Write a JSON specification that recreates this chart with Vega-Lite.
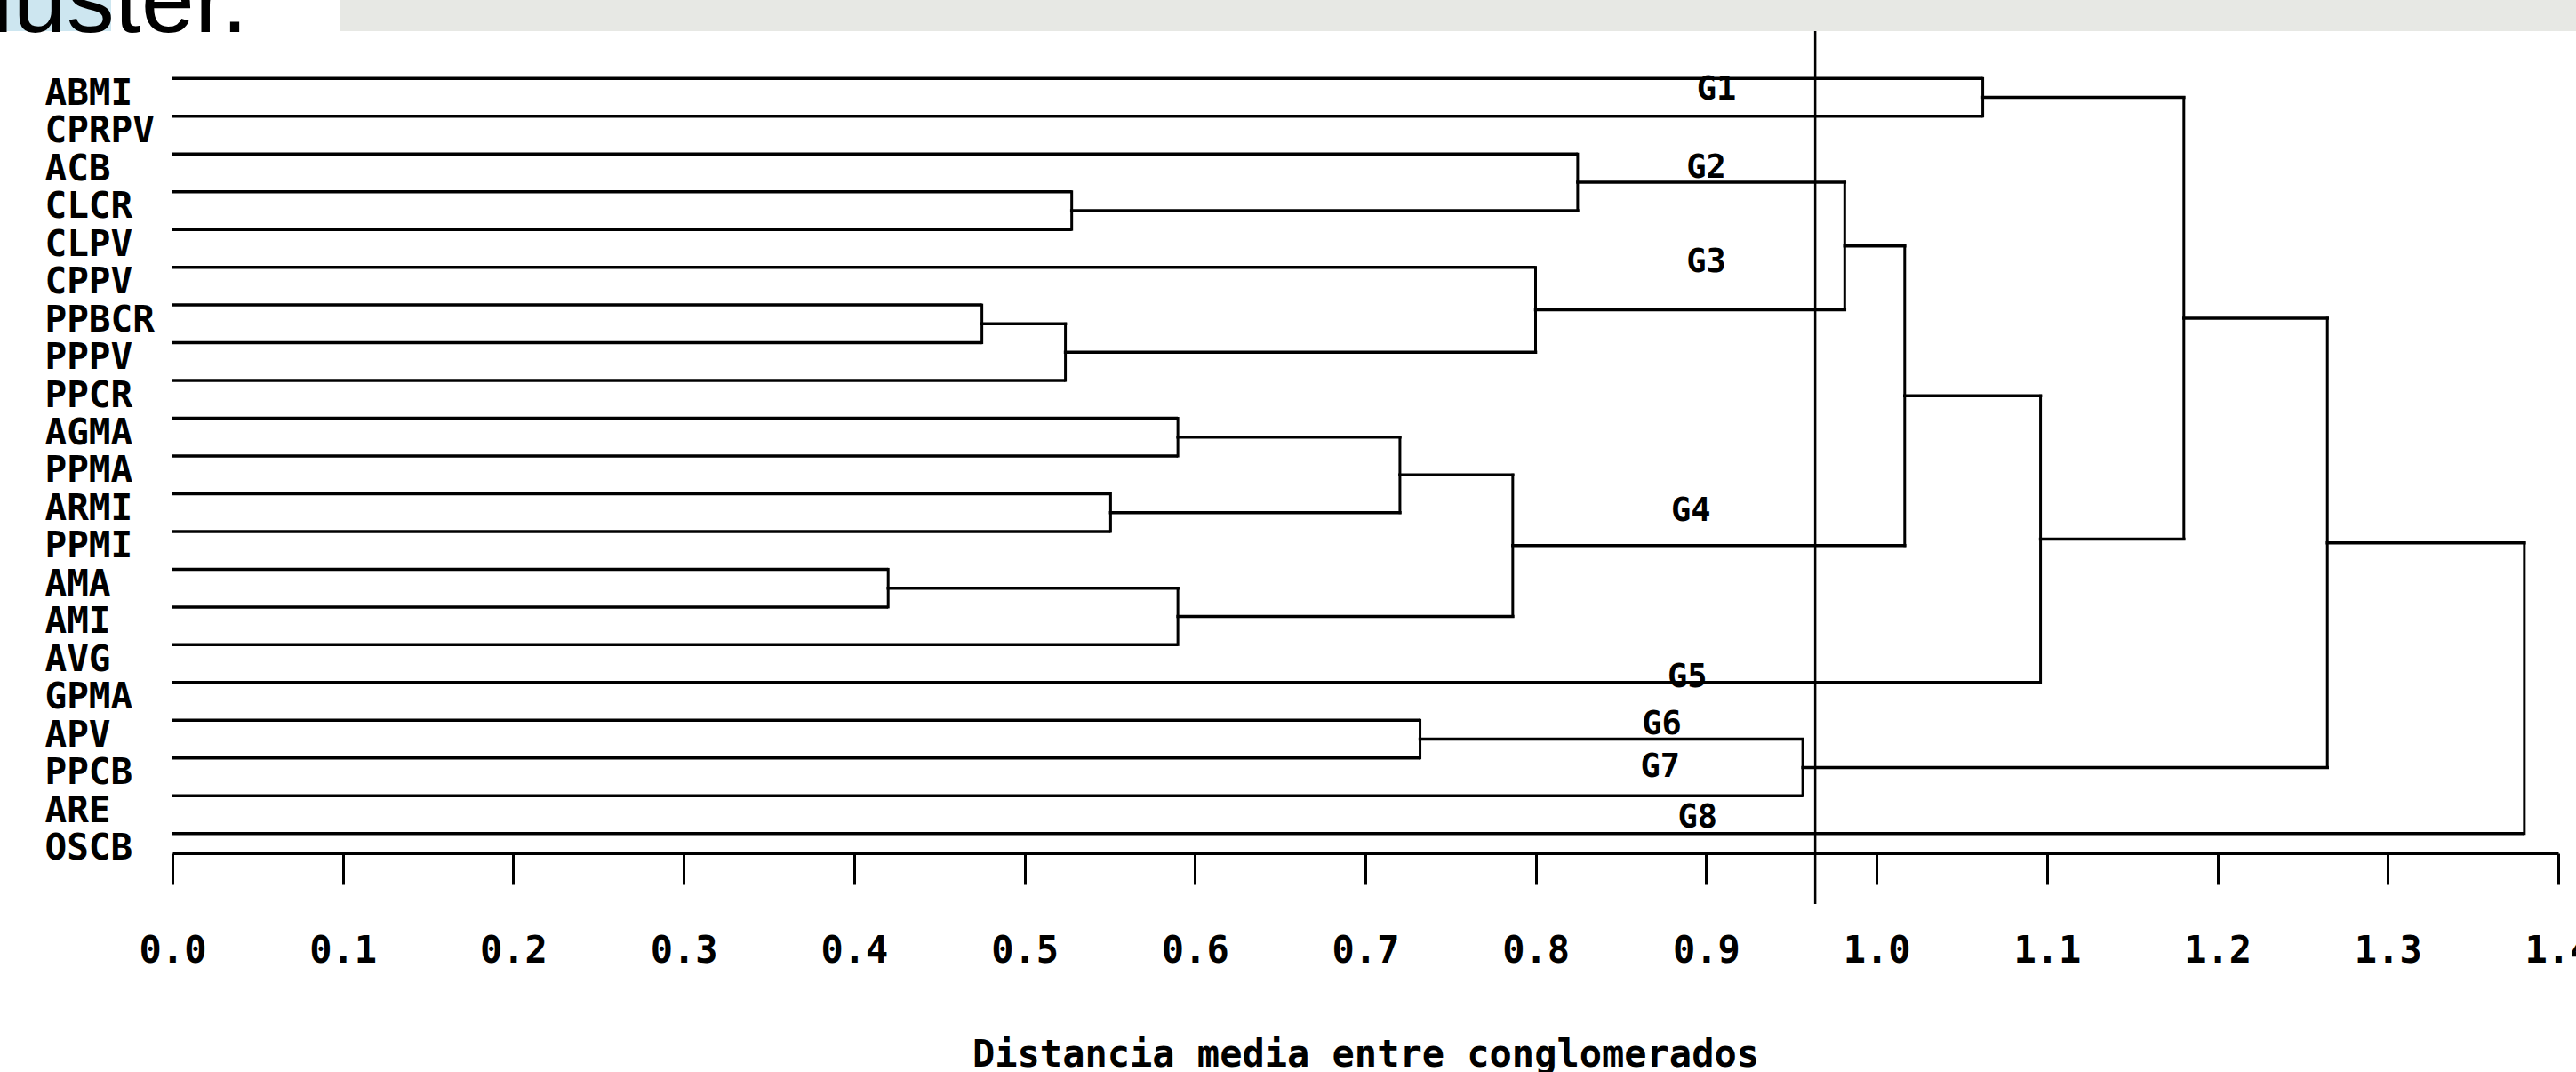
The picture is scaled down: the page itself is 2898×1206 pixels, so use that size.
{
  "$schema": "https://vega.github.io/schema/vega-lite/v6.json",
  "width": 2684,
  "height": 925,
  "autosize": {"type": "none"},
  "padding": {"left": 194, "top": 35, "right": 20, "bottom": 246},
  "background": "white",
  "config": {
    "view": {"stroke": null},
    "axisX": {"grid": false, "domainColor": "black", "domainWidth": 3, "tickColor": "black", "tickWidth": 3, "tickSize": 35, "labelFont": "DejaVu Sans Mono", "labelFontWeight": "bold", "labelFontSize": 42, "labelColor": "black", "labelPadding": 54, "labelFlush": false, "labelOverlap": false, "titleFont": "DejaVu Sans Mono", "titleFontWeight": "bold", "titleFontSize": 42, "titleColor": "black", "titlePadding": 76}
  },
  "datasets": {
    "leaves": [
      {"leaf": "ABMI", "join": 1.0623},
      {"leaf": "CPRPV", "join": 1.0623},
      {"leaf": "ACB", "join": 0.8246},
      {"leaf": "CLCR", "join": 0.5277},
      {"leaf": "CLPV", "join": 0.5277},
      {"leaf": "CPPV", "join": 0.7999},
      {"leaf": "PPBCR", "join": 0.475},
      {"leaf": "PPPV", "join": 0.475},
      {"leaf": "PPCR", "join": 0.524},
      {"leaf": "AGMA", "join": 0.59},
      {"leaf": "PPMA", "join": 0.59},
      {"leaf": "ARMI", "join": 0.5505},
      {"leaf": "PPMI", "join": 0.5505},
      {"leaf": "AMA", "join": 0.42},
      {"leaf": "AMI", "join": 0.42},
      {"leaf": "AVG", "join": 0.59},
      {"leaf": "GPMA", "join": 1.0962},
      {"leaf": "APV", "join": 0.7321},
      {"leaf": "PPCB", "join": 0.7321},
      {"leaf": "ARE", "join": 0.9567},
      {"leaf": "OSCB", "join": 1.3801}
    ],
    "nodes": [
      {"node": "A", "h": 1.0623, "y": 0.5, "ylo": 0, "yhi": 1, "parent_h": 1.1803},
      {"node": "B", "h": 0.5277, "y": 3.5, "ylo": 3, "yhi": 4, "parent_h": 0.8246},
      {"node": "C", "h": 0.8246, "y": 2.75, "ylo": 2, "yhi": 3.5, "parent_h": 0.9813},
      {"node": "D", "h": 0.475, "y": 6.5, "ylo": 6, "yhi": 7, "parent_h": 0.524},
      {"node": "E", "h": 0.524, "y": 7.25, "ylo": 6.5, "yhi": 8, "parent_h": 0.7999},
      {"node": "F", "h": 0.7999, "y": 6.125, "ylo": 5, "yhi": 7.25, "parent_h": 0.9813},
      {"node": "G", "h": 0.9813, "y": 4.4375, "ylo": 2.75, "yhi": 6.125, "parent_h": 1.0165},
      {"node": "H", "h": 0.59, "y": 9.5, "ylo": 9, "yhi": 10, "parent_h": 0.7203},
      {"node": "I", "h": 0.5505, "y": 11.5, "ylo": 11, "yhi": 12, "parent_h": 0.7203},
      {"node": "J", "h": 0.7203, "y": 10.5, "ylo": 9.5, "yhi": 11.5, "parent_h": 0.7865},
      {"node": "K", "h": 0.42, "y": 13.5, "ylo": 13, "yhi": 14, "parent_h": 0.59},
      {"node": "L", "h": 0.59, "y": 14.25, "ylo": 13.5, "yhi": 15, "parent_h": 0.7865},
      {"node": "M", "h": 0.7865, "y": 12.375, "ylo": 10.5, "yhi": 14.25, "parent_h": 1.0165},
      {"node": "N", "h": 1.0165, "y": 8.406, "ylo": 4.4375, "yhi": 12.375, "parent_h": 1.0962},
      {"node": "O", "h": 1.0962, "y": 12.203, "ylo": 8.406, "yhi": 16, "parent_h": 1.1803},
      {"node": "P", "h": 1.1803, "y": 6.352, "ylo": 0.5, "yhi": 12.203, "parent_h": 1.2645},
      {"node": "Q", "h": 0.7321, "y": 17.5, "ylo": 17, "yhi": 18, "parent_h": 0.9567},
      {"node": "R", "h": 0.9567, "y": 18.25, "ylo": 17.5, "yhi": 19, "parent_h": 1.2645},
      {"node": "S", "h": 1.2645, "y": 12.301, "ylo": 6.352, "yhi": 18.25, "parent_h": 1.3801},
      {"node": "T", "h": 1.3801, "y": 16.15, "ylo": 12.301, "yhi": 20, "parent_h": null}
    ],
    "groups": [
      {"label": "G1", "x": 0.906, "y": 0.309},
      {"label": "G2", "x": 0.9, "y": 2.38},
      {"label": "G3", "x": 0.9, "y": 4.876},
      {"label": "G4", "x": 0.891, "y": 11.47},
      {"label": "G5", "x": 0.889, "y": 15.87},
      {"label": "G6", "x": 0.874, "y": 17.12},
      {"label": "G7", "x": 0.873, "y": 18.25},
      {"label": "G8", "x": 0.895, "y": 19.59}
    ]
  },
  "layer": [
    {
      "data": {"values": [{}]},
      "mark": {"type": "rect", "color": "#e7e8e4"},
      "encoding": {
        "x": {"datum": 0.0986, "type": "quantitative", "scale": {"domain": [0, 1.4], "nice": false, "zero": false}, "axis": {"values": [0, 0.1, 0.2, 0.3, 0.4, 0.5, 0.6, 0.7, 0.8, 0.9, 1.0, 1.1, 1.2, 1.3, 1.4], "format": ".1f", "title": "Distancia media entre conglomerados"}},
        "x2": {"datum": 1.5},
        "y": {"datum": -2.079, "type": "quantitative", "scale": {"domain": [-1.255, 20.525], "reverse": true, "nice": false, "zero": false}, "axis": null},
        "y2": {"datum": -1.255}
      }
    },
    {
      "data": {"values": [{}]},
      "mark": {"type": "rect", "color": "#cde6f0"},
      "encoding": {
        "x": {"datum": -0.1013, "type": "quantitative", "scale": {"domain": [0, 1.4], "nice": false, "zero": false}, "axis": {"values": [0, 0.1, 0.2, 0.3, 0.4, 0.5, 0.6, 0.7, 0.8, 0.9, 1.0, 1.1, 1.2, 1.3, 1.4], "format": ".1f", "title": "Distancia media entre conglomerados"}},
        "x2": {"datum": -0.036},
        "y": {"datum": -2.079, "type": "quantitative", "scale": {"domain": [-1.255, 20.525], "reverse": true, "nice": false, "zero": false}, "axis": null},
        "y2": {"datum": -1.255}
      }
    },
    {
      "data": {"values": [{"t": "luster."}]},
      "mark": {"type": "text", "font": "Liberation Sans", "fontSize": 108, "color": "black", "align": "left", "baseline": "alphabetic"},
      "encoding": {
        "x": {"datum": -0.106, "type": "quantitative", "scale": {"domain": [0, 1.4], "nice": false, "zero": false}, "axis": {"values": [0, 0.1, 0.2, 0.3, 0.4, 0.5, 0.6, 0.7, 0.8, 0.9, 1.0, 1.1, 1.2, 1.3, 1.4], "format": ".1f", "title": "Distancia media entre conglomerados"}},
        "y": {"datum": -1.243, "type": "quantitative", "scale": {"domain": [-1.255, 20.525], "reverse": true, "nice": false, "zero": false}, "axis": null},
        "text": {"field": "t"}
      }
    },
    {
      "data": {"name": "leaves"},
      "mark": {"type": "bar", "color": "black", "size": 3.5},
      "encoding": {
        "y": {
          "field": "leaf", "type": "ordinal", "sort": null,
          "scale": {"type": "point", "padding": 0.89, "align": 0.705},
          "axis": {"orient": "left", "ticks": false, "domain": false, "grid": false, "title": null, "labelAlign": "left", "labelPadding": 144, "labelBaseline": "top", "labelOffset": -3, "labelOverlap": false, "labelFont": "DejaVu Sans Mono", "labelFontWeight": "bold", "labelFontSize": 41, "labelColor": "black"}
        },
        "x": {"field": "join", "type": "quantitative", "scale": {"domain": [0, 1.4], "nice": false, "zero": false}, "axis": {"values": [0, 0.1, 0.2, 0.3, 0.4, 0.5, 0.6, 0.7, 0.8, 0.9, 1.0, 1.1, 1.2, 1.3, 1.4], "format": ".1f", "title": "Distancia media entre conglomerados"}}
      }
    },
    {
      "data": {"name": "nodes"},
      "transform": [{"filter": "datum.parent_h != null"}],
      "mark": {"type": "rule", "color": "black", "strokeWidth": 3.5, "strokeCap": "square"},
      "encoding": {
        "x": {"field": "h", "type": "quantitative", "scale": {"domain": [0, 1.4], "nice": false, "zero": false}, "axis": {"values": [0, 0.1, 0.2, 0.3, 0.4, 0.5, 0.6, 0.7, 0.8, 0.9, 1.0, 1.1, 1.2, 1.3, 1.4], "format": ".1f", "title": "Distancia media entre conglomerados"}},
        "x2": {"field": "parent_h"},
        "y": {"field": "y", "type": "quantitative", "scale": {"domain": [-1.255, 20.525], "reverse": true, "nice": false, "zero": false}, "axis": null}
      }
    },
    {
      "data": {"name": "nodes"},
      "mark": {"type": "rule", "color": "black", "strokeWidth": 3, "strokeCap": "square"},
      "encoding": {
        "x": {"field": "h", "type": "quantitative", "scale": {"domain": [0, 1.4], "nice": false, "zero": false}, "axis": {"values": [0, 0.1, 0.2, 0.3, 0.4, 0.5, 0.6, 0.7, 0.8, 0.9, 1.0, 1.1, 1.2, 1.3, 1.4], "format": ".1f", "title": "Distancia media entre conglomerados"}},
        "y": {"field": "ylo", "type": "quantitative", "scale": {"domain": [-1.255, 20.525], "reverse": true, "nice": false, "zero": false}, "axis": null},
        "y2": {"field": "yhi"}
      }
    },
    {
      "data": {"values": [{}]},
      "mark": {"type": "rule", "color": "black", "strokeWidth": 2.5},
      "encoding": {
        "x": {"datum": 0.964, "type": "quantitative", "scale": {"domain": [0, 1.4], "nice": false, "zero": false}, "axis": {"values": [0, 0.1, 0.2, 0.3, 0.4, 0.5, 0.6, 0.7, 0.8, 0.9, 1.0, 1.1, 1.2, 1.3, 1.4], "format": ".1f", "title": "Distancia media entre conglomerados"}},
        "y": {"datum": -1.255, "type": "quantitative", "scale": {"domain": [-1.255, 20.525], "reverse": true, "nice": false, "zero": false}, "axis": null},
        "y2": {"datum": 21.867}
      }
    },
    {
      "data": {"name": "groups"},
      "mark": {"type": "text", "font": "DejaVu Sans Mono", "fontWeight": "bold", "fontSize": 37, "color": "black", "align": "center", "baseline": "middle"},
      "encoding": {
        "x": {"field": "x", "type": "quantitative", "scale": {"domain": [0, 1.4], "nice": false, "zero": false}, "axis": {"values": [0, 0.1, 0.2, 0.3, 0.4, 0.5, 0.6, 0.7, 0.8, 0.9, 1.0, 1.1, 1.2, 1.3, 1.4], "format": ".1f", "title": "Distancia media entre conglomerados"}},
        "y": {"field": "y", "type": "quantitative", "scale": {"domain": [-1.255, 20.525], "reverse": true, "nice": false, "zero": false}, "axis": null},
        "text": {"field": "label"}
      }
    }
  ],
  "resolve": {"scale": {"y": "independent"}}
}
